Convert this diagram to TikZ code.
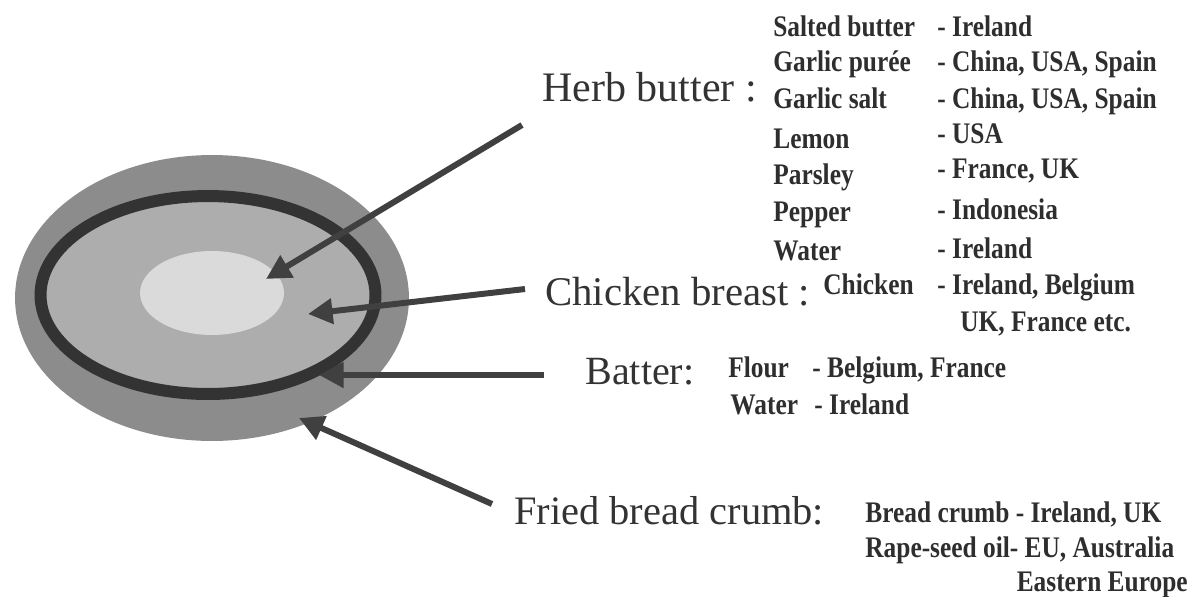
\documentclass[tikz,border=0pt]{standalone}
\usepackage{fontspec}
\setmainfont{Liberation Serif}
\newfontfamily\listfont[FakeStretch=0.85]{Liberation Serif}
\usepackage{xcolor}
\usepackage{tikz}
\usetikzlibrary{arrows.meta}

\definecolor{crumbgray}{HTML}{8C8C8C}
\definecolor{breastgray}{HTML}{ADADAD}
\definecolor{buttergray}{HTML}{DADADA}
\definecolor{battergray}{HTML}{333333}
\definecolor{arrowgray}{HTML}{404040}
\definecolor{textgray}{HTML}{333333}
\definecolor{itemgray}{HTML}{2E2E2E}

\tikzset{
  heading/.style={anchor=base west, inner sep=0pt, text=textgray, font=\fontsize{23.9}{26}\selectfont},
  item/.style={anchor=base west, inner sep=0pt, text=itemgray, font=\listfont\bfseries\fontsize{17}{19}\selectfont},
  pointer/.style={-{Triangle[length=14pt, width=14pt]}, line width=0.12cm, draw=arrowgray}
}

\begin{document}
\begin{tikzpicture}[x=0.02cm, y=-0.02cm]
  \useasboundingbox (0,0) rectangle (1195,596);

  % the nugget, cut open
  \fill [crumbgray] (212,298) ellipse [x radius=3.94cm, y radius=2.86cm];
  \filldraw [fill=breastgray, draw=battergray, line width=0.24cm] (208,295) ellipse [x radius=3.35cm, y radius=1.98cm];
  \fill [buttergray] (212,293) ellipse [x radius=1.44cm, y radius=0.84cm];

  % where the arrows end
  \coordinate (herbtip) at (266,279);
  \coordinate (breasttip) at (308,314);
  \coordinate (battertip) at (319,375);
  \coordinate (crumbtip) at (299,418);
  \coordinate (herbtail) at (522,125);
  \coordinate (breasttail) at (525,289);
  \coordinate (battertail) at (544,375);
  \coordinate (crumbtail) at (492,504);

  % layer names
  \node (herb) [heading] at (542,101) {Herb butter :};
  \node (breast) [heading, font=\fontsize{23.2}{25}\selectfont] at (545,305) {Chicken breast :};
  \node (batter) [heading, font=\fontsize{22.8}{25}\selectfont] at (585,384) {Batter:};
  \node (crumb) [heading, font=\fontsize{23}{25}\selectfont] at (514,524) {Fried bread crumb:};

  % herb butter ingredients
  \node (salted) [item] at (773,36) {Salted butter};
  \node (saltedfrom) [item] at (937,36) {- Ireland};
  \node (puree) [item] at (773,71) {Garlic purée};
  \node (pureefrom) [item] at (937,71) {- China, USA, Spain};
  \node (garlicsalt) [item] at (773,108) {Garlic salt};
  \node (garlicsaltfrom) [item] at (937,108) {- China, USA, Spain};
  \node (lemon) [item] at (773,148) {Lemon};
  \node (lemonfrom) [item] at (937,143) {- USA};
  \node (parsley) [item] at (773,184) {Parsley};
  \node (parsleyfrom) [item] at (937,178) {- France, UK};
  \node (pepper) [item] at (773,221) {Pepper};
  \node (pepperfrom) [item] at (937,219) {- Indonesia};
  \node (herbwater) [item] at (773,260) {Water};
  \node (herbwaterfrom) [item] at (937,258) {- Ireland};

  % chicken breast
  \node (chicken) [item] at (823,294) {Chicken};
  \node (chickenfrom) [item] at (937,294) {- Ireland, Belgium};
  \node (chickenmore) [item] at (960,331) {UK, France etc.};

  % batter
  \node (flour) [item] at (728,377) {Flour};
  \node (flourfrom) [item] at (812,377) {- Belgium, France};
  \node (batterwater) [item] at (730,414) {Water};
  \node (batterwaterfrom) [item] at (814,414) {- Ireland};

  % fried bread crumb
  \node (breadcrumb) [item] at (865,522) {Bread crumb - Ireland, UK};
  \node (oil) [item] at (865,557) {Rape-seed oil- EU, Australia};
  \node (oilmore) [item, anchor=base east] at (1188,591) {Eastern Europe};

  \draw [pointer] (herbtail) -- (herbtip);
  \draw [pointer] (breasttail) -- (breasttip);
  \draw [pointer] (battertail) -- (battertip);
  \draw [pointer] (crumbtail) -- (crumbtip);
\end{tikzpicture}
\end{document}
